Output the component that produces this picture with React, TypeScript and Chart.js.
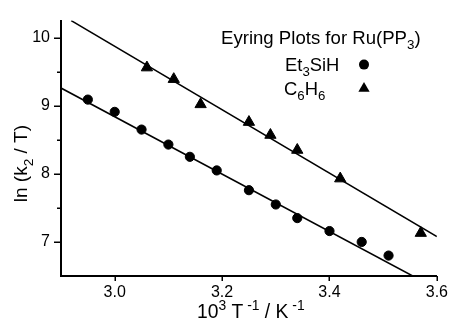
import React, { useEffect, useRef } from "react";
import { Chart, registerables } from "chart.js";

Chart.register(...registerables);

// ---- data ----
const et3sihX = [2.95, 3.0, 3.05, 3.1, 3.14, 3.19, 3.25, 3.3, 3.34, 3.4, 3.46, 3.51];
const et3sihY = [9.09, 8.91, 8.65, 8.43, 8.25, 8.05, 7.76, 7.55, 7.35, 7.16, 7.0, 6.8];
const c6h6X = [3.06, 3.11, 3.16, 3.25, 3.29, 3.34, 3.42, 3.57];
const c6h6Y = [9.56, 9.39, 9.02, 8.76, 8.57, 8.35, 7.93, 7.13];
const et3sihFitX = [2.9, 3.555];
const et3sihFitY = [9.26, 6.5];
const c6h6FitX = [2.919, 3.6];
const c6h6FitY = [10.25, 7.08];
const xTicks = [3.0, 3.2, 3.4, 3.6];
const yMajorTicks = [7, 8, 9, 10];
const yMinorTicks = [7.5, 8.5, 9.5];
const xRange = [2.9, 3.6];
const yRange = [6.5, 10.25];

type Seg = { t: string; s?: "sub" | "sup" };
const legendTitle: Seg[] = [{ t: "Eyring Plots for Ru(PP" }, { t: "3", s: "sub" }, { t: ")" }];
const seriesNames: Seg[][] = [
  [{ t: "Et" }, { t: "3", s: "sub" }, { t: "SiH" }],
  [{ t: "C" }, { t: "6", s: "sub" }, { t: "H" }, { t: "6", s: "sub" }],
];
const xTitle: Seg[] = [
  { t: "10" },
  { t: "3", s: "sup" },
  { t: " T" },
  { t: " -1", s: "sup" },
  { t: " / K" },
  { t: " -1", s: "sup" },
];
const yTitle: Seg[] = [{ t: "ln (k" }, { t: "2", s: "sub" }, { t: " / T)" }];

const FONT = '"Liberation Sans", Arial, Helvetica, sans-serif';

function segFont(size: number, s?: string) {
  const sz = s ? size * 0.72 : size;
  return `${sz}px ${FONT}`;
}
function richWidth(ctx: CanvasRenderingContext2D, segs: Seg[], size: number) {
  let w = 0;
  for (const g of segs) {
    ctx.font = segFont(size, g.s);
    w += ctx.measureText(g.t).width;
  }
  return w;
}
function drawRich(ctx: CanvasRenderingContext2D, x: number, y: number, segs: Seg[], size: number) {
  let cx = x;
  ctx.textBaseline = "alphabetic";
  ctx.textAlign = "left";
  for (const g of segs) {
    ctx.font = segFont(size, g.s);
    const dy = g.s === "sub" ? size * 0.3 : g.s === "sup" ? -size * 0.42 : 0;
    ctx.fillText(g.t, cx, y + dy);
    cx += ctx.measureText(g.t).width;
  }
}

const decor = {
  id: "decor",
  afterDraw(chart: any) {
    const ctx: CanvasRenderingContext2D = chart.ctx;
    const { left, top, bottom } = chart.chartArea;
    const xs = chart.scales.x;
    const ys = chart.scales.y;
    ctx.save();
    ctx.strokeStyle = "#000";
    ctx.fillStyle = "#000";
    ctx.lineWidth = 1.5;
    ctx.beginPath();
    for (const v of yMajorTicks) {
      const p = Math.round(ys.getPixelForValue(v)) + 0.25;
      ctx.moveTo(left - 7, p);
      ctx.lineTo(left, p);
    }
    for (const v of yMinorTicks) {
      const p = Math.round(ys.getPixelForValue(v)) + 0.25;
      ctx.moveTo(left - 4, p);
      ctx.lineTo(left, p);
    }
    for (const v of xTicks) {
      const p = Math.round(xs.getPixelForValue(v)) + 0.25;
      ctx.moveTo(p, bottom);
      ctx.lineTo(p, bottom + 5);
    }
    ctx.stroke();

    // legend
    drawRich(ctx, left + 160, top + 23, legendTitle, 18.6);
    drawRich(ctx, left + 224, top + 50, seriesNames[0], 18.4);
    drawRich(ctx, left + 223, top + 74, seriesNames[1], 18.4);
    ctx.beginPath();
    ctx.arc(left + 303, top + 44, 5, 0, Math.PI * 2);
    ctx.fill();
    const tx = left + 303;
    const ty = top + 68;
    const r = 6.5;
    ctx.beginPath();
    ctx.moveTo(tx, ty - r);
    ctx.lineTo(tx + r * 0.866, ty + r / 2);
    ctx.lineTo(tx - r * 0.866, ty + r / 2);
    ctx.closePath();
    ctx.fill();

    // axis titles
    drawRich(ctx, left + 136, bottom + 42, xTitle, 19.3);
    ctx.save();
    ctx.translate(left - 34, top + 143);
    ctx.rotate(-Math.PI / 2);
    const w = richWidth(ctx, yTitle, 19);
    drawRich(ctx, -w / 2, 0, yTitle, 19);
    ctx.restore();
    ctx.restore();
  },
};

export default function App() {
  const ref = useRef<HTMLCanvasElement | null>(null);
  useEffect(() => {
    if (!ref.current) return;
    const pts = (xs: number[], ys: number[]) => xs.map((x, i) => ({ x, y: ys[i] }));
    const chart = new Chart(ref.current, {
      type: "scatter",
      data: {
        datasets: [
          {
            label: "Et3SiH fit",
            data: pts(et3sihFitX, et3sihFitY),
            showLine: true,
            borderColor: "#000",
            borderWidth: 1.5,
            pointRadius: 0,
          },
          {
            label: "C6H6 fit",
            data: pts(c6h6FitX, c6h6FitY),
            showLine: true,
            borderColor: "#000",
            borderWidth: 1.5,
            pointRadius: 0,
          },
          {
            label: "Et3SiH",
            data: pts(et3sihX, et3sihY),
            pointStyle: "circle",
            pointRadius: 4.6,
            borderWidth: 1,
            backgroundColor: "#000",
            borderColor: "#000",
          },
          {
            label: "C6H6",
            data: pts(c6h6X, c6h6Y),
            pointStyle: "triangle",
            pointRadius: 6.5,
            borderWidth: 1,
            backgroundColor: "#000",
            borderColor: "#000",
          },
        ],
      },
      options: {
        responsive: false,
        animation: false,
        layout: { padding: { left: 0, top: 13, right: 15, bottom: 0 } },
        plugins: { legend: { display: false }, tooltip: { enabled: false } },
        scales: {
          x: {
            type: "linear",
            min: xRange[0],
            max: xRange[1],
            afterBuildTicks: (s: any) => {
              s.ticks = xTicks.map((v) => ({ value: v }));
            },
            afterFit: (s: any) => {
              s.height = 45;
            },
            ticks: {
              callback: (v: any) => Number(v).toFixed(1),
              font: { size: 16, family: FONT },
              color: "#000",
              padding: 7,
              maxRotation: 0,
              autoSkip: false,
            },
            grid: { display: false, drawTicks: false },
            border: { display: true, color: "#000", width: 2 },
          },
          y: {
            type: "linear",
            min: yRange[0],
            max: yRange[1],
            afterBuildTicks: (s: any) => {
              s.ticks = [...yMajorTicks, ...yMinorTicks].sort((a, b) => a - b).map((v) => ({ value: v }));
            },
            afterFit: (s: any) => {
              s.width = 61;
            },
            ticks: {
              callback: (v: any) => (Number.isInteger(Number(v)) ? String(v) : ""),
              font: { size: 16, family: FONT },
              color: "#000",
              padding: 11,
              autoSkip: false,
            },
            grid: { display: false, drawTicks: false },
            border: { display: true, color: "#000", width: 2 },
          },
        },
      },
      plugins: [decor],
    });
    return () => chart.destroy();
  }, []);
  return (
    <div style={{ position: "fixed", left: 0, top: 0, width: 455, height: 321, background: "#fff" }}>
      <canvas ref={ref} width={455} height={321} style={{ display: "block" }} />
    </div>
  );
}
